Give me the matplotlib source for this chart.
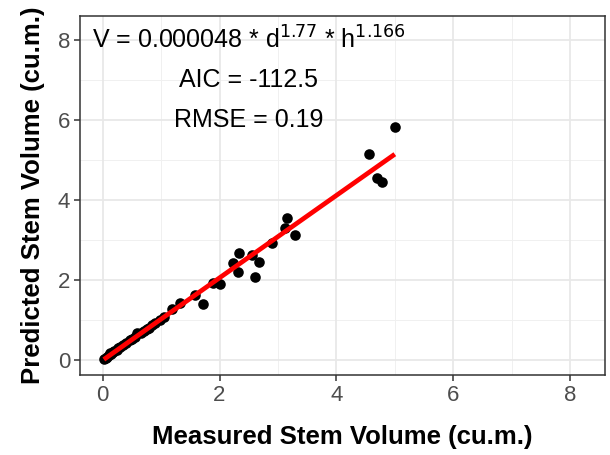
import matplotlib
matplotlib.use("Agg")
import matplotlib.pyplot as plt
import numpy as np

# Measured vs predicted stem volume (cu.m.)
measured = [0.02, 0.05, 0.08, 0.10, 0.12, 0.15, 0.18, 0.20, 0.24, 0.26, 0.30,
            0.35, 0.40, 0.46, 0.50, 0.55, 0.58, 0.65, 0.70, 0.75, 0.80, 0.85,
            0.90, 0.98, 1.05, 1.18, 1.32, 1.58, 1.71, 1.88, 2.00, 2.23, 2.31,
            2.33, 2.55, 2.60, 2.68, 2.90, 3.12, 3.15, 3.29, 4.55, 4.69, 4.78,
            5.00]
predicted = [0.03, 0.06, 0.08, 0.12, 0.17, 0.16, 0.20, 0.22, 0.25, 0.30, 0.32,
             0.37, 0.43, 0.50, 0.52, 0.57, 0.67, 0.68, 0.73, 0.78, 0.80, 0.88,
             0.93, 1.00, 1.07, 1.27, 1.42, 1.62, 1.40, 1.93, 1.90, 2.43, 2.20,
             2.67, 2.62, 2.08, 2.45, 2.93, 3.30, 3.55, 3.12, 5.15, 4.55, 4.45,
             5.83]

annot_lines = ["AIC = -112.5", "RMSE = 0.19"]
ticks = [0, 2, 4, 6, 8]

plt.rcParams["font.family"] = ["Liberation Sans", "DejaVu Sans"]

fig = plt.figure(figsize=(6.1, 4.55), dpi=100)
ax = fig.add_axes([0.131, 0.176, 0.861, 0.789])

x = np.array(measured)
y = np.array(predicted)

# grid like theme_bw
for v in [1, 3, 5, 7]:
    ax.axvline(v, color="#F0F0F0", lw=0.7, zorder=0)
    ax.axhline(v, color="#F0F0F0", lw=0.7, zorder=0)
for v in ticks:
    ax.axvline(v, color="#E8E8E8", lw=1.3, zorder=0)
    ax.axhline(v, color="#E8E8E8", lw=1.3, zorder=0)

ax.scatter(x, y, s=58, color="black", zorder=3, linewidths=0)

slope, intercept = np.polyfit(x, y, 1)
xs = np.array([x.min(), x.max()])
ax.plot(xs, slope * xs + intercept, color="#FF0000", lw=3.4, zorder=4,
        solid_capstyle="butt")

ax.text(2.5, 8.0, r"V = 0.000048 * d$^{1.77}$ * h$^{1.166}$", ha="center",
        va="center", fontsize=18, color="black")
ax.text(2.5, 7.0, annot_lines[0], ha="center", va="center", fontsize=18)
ax.text(2.5, 6.0, annot_lines[1], ha="center", va="center", fontsize=18)

ax.set_xlim(-0.39, 8.6)
ax.set_ylim(-0.375, 8.6)
ax.set_xticks(ticks)
ax.set_yticks(ticks)
ax.tick_params(axis="both", length=4, width=1.1, color="#333333",
               labelcolor="#4D4D4D", labelsize=16, pad=3)
for sp in ax.spines.values():
    sp.set_color("#333333")
    sp.set_linewidth(1.1)

ax.set_xlabel("Measured Stem Volume (cu.m.)", fontsize=18.5, fontweight="bold",
              labelpad=14)
ax.set_ylabel("Predicted Stem Volume (cu.m.)", fontsize=18.5, fontweight="bold",
              labelpad=9)

plt.savefig("out.png", dpi=100)
